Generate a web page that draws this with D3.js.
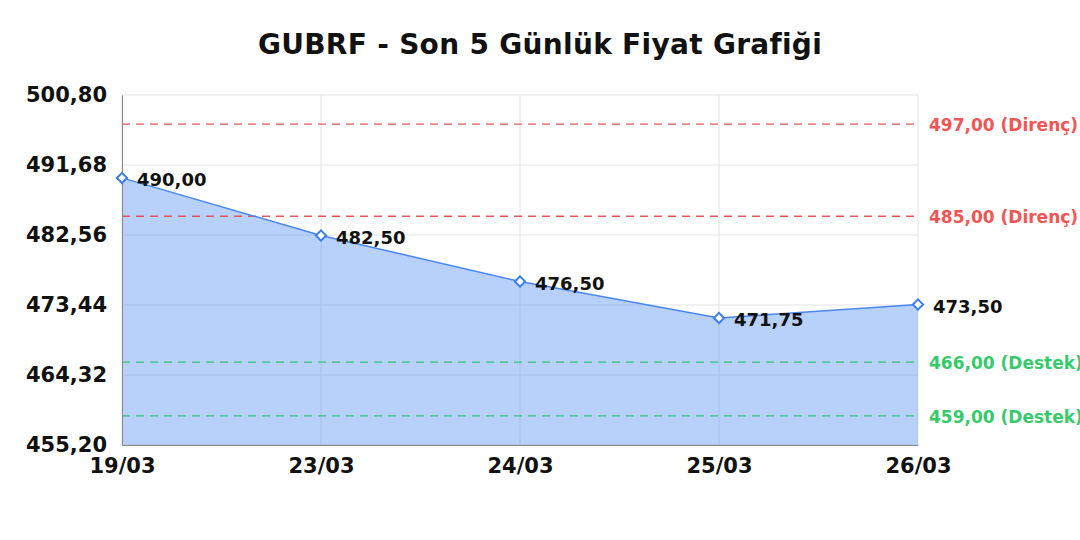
<!DOCTYPE html>
<html><head><meta charset="utf-8">
<script src="https://cdn.jsdelivr.net/npm/d3@7"></script>
<style>
html,body{margin:0;padding:0;background:#fff;}
svg{display:block;font-family:"DejaVu Sans",sans-serif;}
</style></head>
<body>
<svg id="chart" width="1080" height="540"></svg>
<script>
const title = "GUBRF - Son 5 Günlük Fiyat Grafiği";
const dates = ["19/03","23/03","24/03","25/03","26/03"];
const prices = [490.00, 482.50, 476.50, 471.75, 473.50];
const yTicks = [455.20, 464.32, 473.44, 482.56, 491.68, 500.80];
const resistance = [497.00, 485.00];
const support = [466.00, 459.00];

const fmt = v => v.toFixed(2).replace(".", ",");
const svg = d3.select("#chart");
const m = {l:122, r:918, t:95, b:445};

const x = d3.scalePoint().domain(dates).range([m.l, m.r]);
const y = d3.scaleLinear().domain([yTicks[0], yTicks[yTicks.length-1]]).range([m.b, m.t]);

svg.append("text").attr("x",540).attr("y",54).attr("text-anchor","middle")
  .attr("font-size",28).attr("font-weight","bold").attr("fill","#111")
  .attr("letter-spacing","0.3").text(title);

// grid
const g = svg.append("g");
g.selectAll(".hg").data(yTicks).join("line")
  .attr("x1",m.l).attr("x2",m.r).attr("y1",d=>y(d)).attr("y2",d=>y(d))
  .attr("stroke","#e3e3e3").attr("stroke-width",1);
g.selectAll(".vg").data(dates).join("line")
  .attr("x1",d=>x(d)).attr("x2",d=>x(d)).attr("y1",m.t).attr("y2",m.b)
  .attr("stroke","#e3e3e3").attr("stroke-width",1);

const data = dates.map((d,i)=>({d, v:prices[i]}));

// area
svg.append("path").datum(data)
  .attr("d", d3.area().x(p=>x(p.d)).y0(m.b).y1(p=>y(p.v)))
  .attr("fill","rgba(66,133,244,0.38)");

// reference lines
const refs = resistance.map(v=>({v, c:"#ef4444", t:" (Direnç)"}))
  .concat(support.map(v=>({v, c:"#22c55e", t:" (Destek)"})));
svg.selectAll(".ref").data(refs).join("line")
  .attr("x1",m.l).attr("x2",m.r).attr("y1",d=>y(d.v)).attr("y2",d=>y(d.v))
  .attr("stroke",d=>d.c).attr("stroke-width",1.4).attr("stroke-dasharray","8,6").attr("opacity",0.9);
svg.selectAll(".reft").data(refs).join("text")
  .attr("x",m.r+11).attr("y",d=>y(d.v)+1).attr("dy","0.35em")
  .attr("font-size",17).attr("font-weight","bold").attr("fill",d=>d.c).attr("opacity",0.9)
  .text(d=>fmt(d.v)+d.t);

// line
svg.append("path").datum(data)
  .attr("d", d3.line().x(p=>x(p.d)).y(p=>y(p.v)))
  .attr("fill","none").attr("stroke","#4a86f0").attr("stroke-width",1.5);

// axes
const ya = svg.append("g").attr("transform",`translate(${m.l},0)`)
  .call(d3.axisLeft(y).tickValues(yTicks).tickFormat(fmt).tickSize(0).tickPadding(15));
ya.select(".domain").attr("stroke","#888");
ya.selectAll("text").attr("font-size",21).attr("font-weight","bold").attr("fill","#111")
  .attr("font-family","DejaVu Sans");
const xa = svg.append("g").attr("transform",`translate(0,${m.b})`)
  .call(d3.axisBottom(x).tickSize(0).tickPadding(13));
xa.select(".domain").attr("stroke","#888");
xa.selectAll("text").attr("font-size",21).attr("font-weight","bold").attr("fill","#111")
  .attr("font-family","DejaVu Sans");

// markers
svg.selectAll(".mk").data(data).join("path")
  .attr("transform",p=>`translate(${x(p.d)},${y(p.v)}) rotate(45)`)
  .attr("d","M-3.6,-3.6H3.6V3.6H-3.6Z")
  .attr("fill","#fff").attr("stroke","#3b7ded").attr("stroke-width",2);

// value labels
svg.selectAll(".vl").data(data).join("text")
  .attr("x",p=>x(p.d)+15).attr("y",p=>y(p.v)+2).attr("dy","0.35em")
  .attr("font-size",18).attr("font-weight","bold").attr("fill","#111")
  .text(p=>fmt(p.v));
</script>
</body></html>
